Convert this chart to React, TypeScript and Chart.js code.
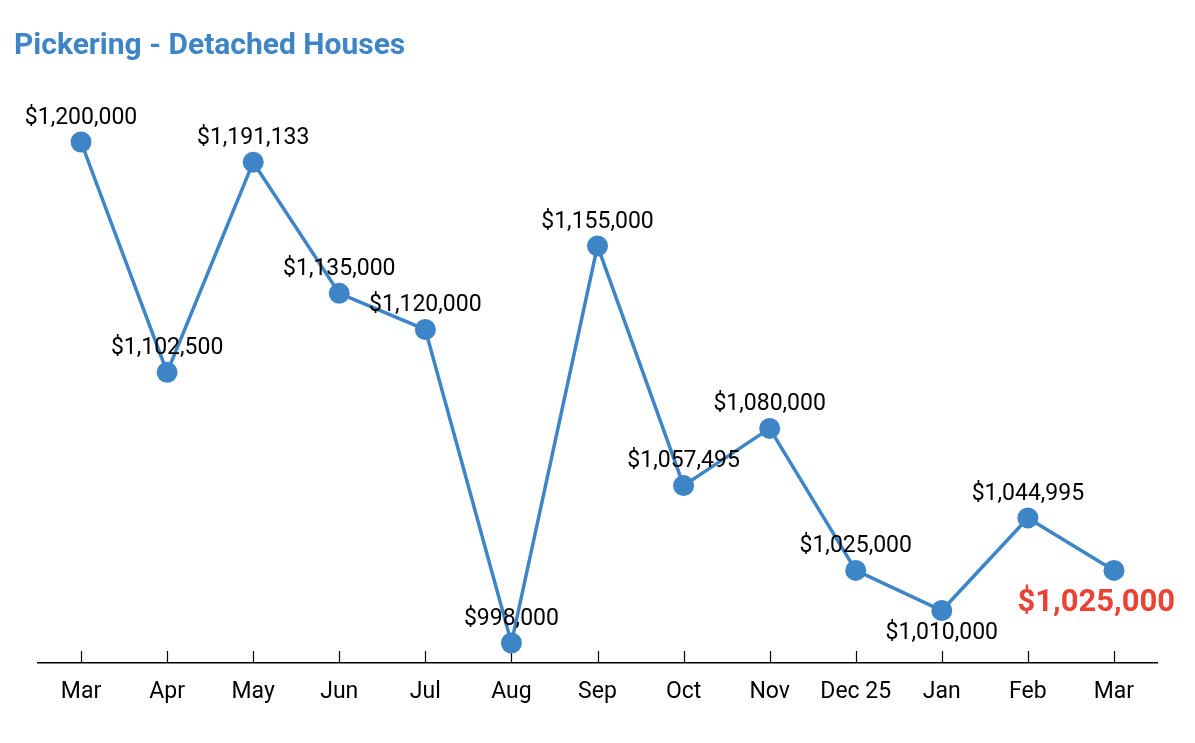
import React, { useEffect, useRef } from 'react';
import { Chart, registerables } from 'chart.js';

Chart.register(...registerables);

const categories = ['Mar', 'Apr', 'May', 'Jun', 'Jul', 'Aug', 'Sep', 'Oct', 'Nov', 'Dec 25', 'Jan', 'Feb', 'Mar'];
const prices = [1200000, 1102500, 1191133, 1135000, 1120000, 998000, 1155000, 1057495, 1080000, 1025000, 1010000, 1044995, 1025000];
const yMin = 990684;
const yMax = 1218690;
const titleText = 'Pickering - Detached Houses';

const BLUE = '#3d85c6';
const RED = '#ea4335';
const FONT = 'Roboto, "Noto Sans", sans-serif';

const fmt = (v: number) => '$' + v.toLocaleString('en-US');

const tickMarksPlugin = {
  id: 'tickMarks',
  beforeDatasetsDraw(chart: any) {
    const x = chart.scales.x;
    const { ctx, chartArea } = chart;
    ctx.save();
    ctx.strokeStyle = '#000';
    ctx.lineWidth = 1.2;
    for (let i = 0; i < categories.length; i++) {
      const px = Math.round(x.getPixelForValue(i)) + 0.5;
      ctx.beginPath();
      ctx.moveTo(px, chartArea.bottom - 12);
      ctx.lineTo(px, chartArea.bottom);
      ctx.stroke();
    }
    ctx.restore();
  },
};

const labelsPlugin = {
  id: 'pointLabels',
  afterDatasetsDraw(chart: any) {
    const { ctx } = chart;
    const meta = chart.getDatasetMeta(0);
    const last = prices.length - 1;
    ctx.save();
    ctx.textBaseline = 'middle';
    ctx.textAlign = 'center';
    meta.data.forEach((pt: any, i: number) => {
      const text = fmt(prices[i]);
      if (i === last) {
        ctx.font = `bold 31px ${FONT}`;
        ctx.fillStyle = RED;
        const w = ctx.measureText(text).width;
        const cx = Math.min(pt.x, chart.width - 20 - w / 2);
        ctx.fillText(text, cx, pt.y + 33);
        return;
      }
      ctx.font = `23px ${FONT}`;
      ctx.fillStyle = '#000';
      const below = categories[i] === 'Jan';
      ctx.fillText(text, pt.x, below ? pt.y + 23 : pt.y - 24);
    });
    ctx.restore();
  },
};

export default function App() {
  const ref = useRef<HTMLCanvasElement | null>(null);
  useEffect(() => {
    if (!ref.current) return;
    const chart = new Chart(ref.current, {
      type: 'line',
      data: {
        labels: categories,
        datasets: [
          {
            data: prices,
            borderColor: BLUE,
            backgroundColor: BLUE,
            borderWidth: 3.5,
            pointRadius: 10.5,
            pointHoverRadius: 10.5,
            pointBackgroundColor: BLUE,
            pointBorderWidth: 0,
            tension: 0,
            clip: false as any,
          },
        ],
      },
      options: {
        animation: false,
        responsive: false,
        devicePixelRatio: 1,
        layout: { padding: { left: 14, right: 38, top: 0, bottom: 0 } },
        plugins: {
          legend: { display: false },
          tooltip: { enabled: false },
          title: {
            display: true,
            text: titleText,
            align: 'start',
            color: BLUE,
            font: { family: FONT, size: 30, weight: 'bold' },
            padding: { top: 28, bottom: 36 },
          },
        },
        scales: {
          x: {
            type: 'category',
            offset: true,
            grid: { display: false, drawTicks: false },
            border: { display: true, color: '#000', width: 1.5 },
            ticks: {
              color: '#000',
              font: { family: FONT, size: 23 },
              padding: 15,
              maxRotation: 0,
              autoSkip: false,
            },
            afterFit: (s: any) => {
              s.height = 80;
            },
          },
          y: {
            type: 'logarithmic',
            min: yMin,
            max: yMax,
            display: true,
            grid: { display: false, drawTicks: false },
            border: { display: false },
            ticks: { display: false },
            afterFit: (s: any) => {
              s.width = 24;
            },
          },
        },
      },
      plugins: [tickMarksPlugin, labelsPlugin],
    });
    return () => chart.destroy();
  }, []);
  return (
    <div style={{ position: 'fixed', left: 0, top: 0, width: 1195, height: 743, background: '#fff' }}>
      <canvas ref={ref} width={1195} height={743} style={{ width: 1195, height: 743, display: 'block' }} />
    </div>
  );
}
